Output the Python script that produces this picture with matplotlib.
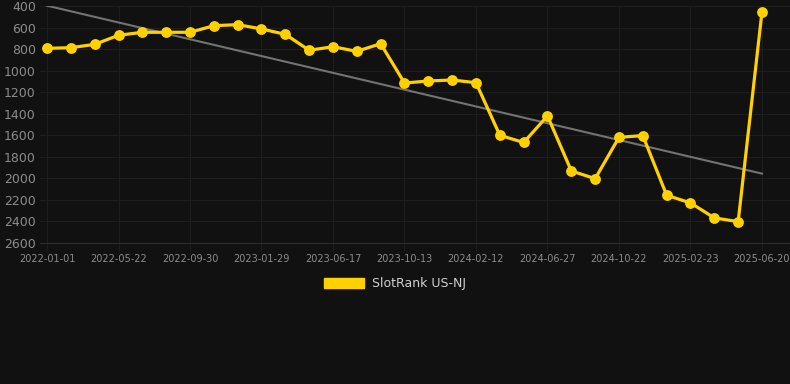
import matplotlib
matplotlib.use("Agg")
import matplotlib.pyplot as plt
import matplotlib.patches as mpatches
import numpy as np

# ── Data ──────────────────────────────────────────────────────────────────────
TICK_LABELS = [
    "2022-01-01", "2022-05-22", "2022-09-30", "2023-01-29", "2023-06-17",
    "2023-10-13", "2024-02-12", "2024-06-27", "2024-10-22", "2025-02-23",
    "2025-06-20",
]
RANK = [
    793, 787, 756, 672, 644, 644, 644, 583, 573, 613,
    663, 811, 778, 821, 750, 1115, 1096, 1087, 1112, 1600,
    1667, 1420, 1931, 2003, 1619, 1603, 2157, 2228, 2367, 2402,
    453,
]
TREND = [397, 1956]   # trend line value at first and last point

BG = "#111111"
GRID = "#1e1e1e"
GOLD = "#FFD100"
TEXT = "#8c8c8c"

x = np.arange(len(RANK))

fig = plt.figure(figsize=(7.9, 3.84), dpi=100)
fig.patch.set_facecolor(BG)
ax = fig.add_axes([40 / 790, 1 - 243 / 384, 750 / 790, 237 / 384])
ax.set_facecolor(BG)

# trend line
ax.plot([x[0], x[-1]], TREND, color="#737373", linewidth=1.5, zorder=2)

# rank line
ax.plot(x, RANK, color=GOLD, linewidth=2.3, marker="o", markersize=7.8,
        markeredgewidth=0, zorder=3, clip_on=False)

# axes
step = 3
ax.set_xticks(x[::step])
ax.set_xticklabels(TICK_LABELS, fontsize=7, color=TEXT)
px = 23.83
ax.set_xlim(-7 / px, x[-1] + 28 / px)
ax.set_ylim(2600, 400)
ax.set_yticks(np.arange(400, 2601, 200))
ax.tick_params(axis="y", length=0, pad=3, labelsize=9, labelcolor=TEXT)
ax.tick_params(axis="x", length=6, color=GRID, pad=2, labelcolor=TEXT)

ax.grid(True, color=GRID, linewidth=0.8, zorder=0)
ax.set_axisbelow(True)
for name, spine in ax.spines.items():
    spine.set_visible(name == "bottom")
ax.spines["bottom"].set_color("#2e2e2e")

# legend
handle = mpatches.Patch(color=GOLD, label="SlotRank US-NJ")
fig.legend(handles=[handle], loc="center", bbox_to_anchor=(395 / 790, 1 - 284 / 384),
           frameon=False, fontsize=9, labelcolor="#d0d0d0",
           handlelength=3.2, handleheight=0.9, handletextpad=0.6)

fig.savefig("out.png", dpi=100, facecolor=fig.get_facecolor())
